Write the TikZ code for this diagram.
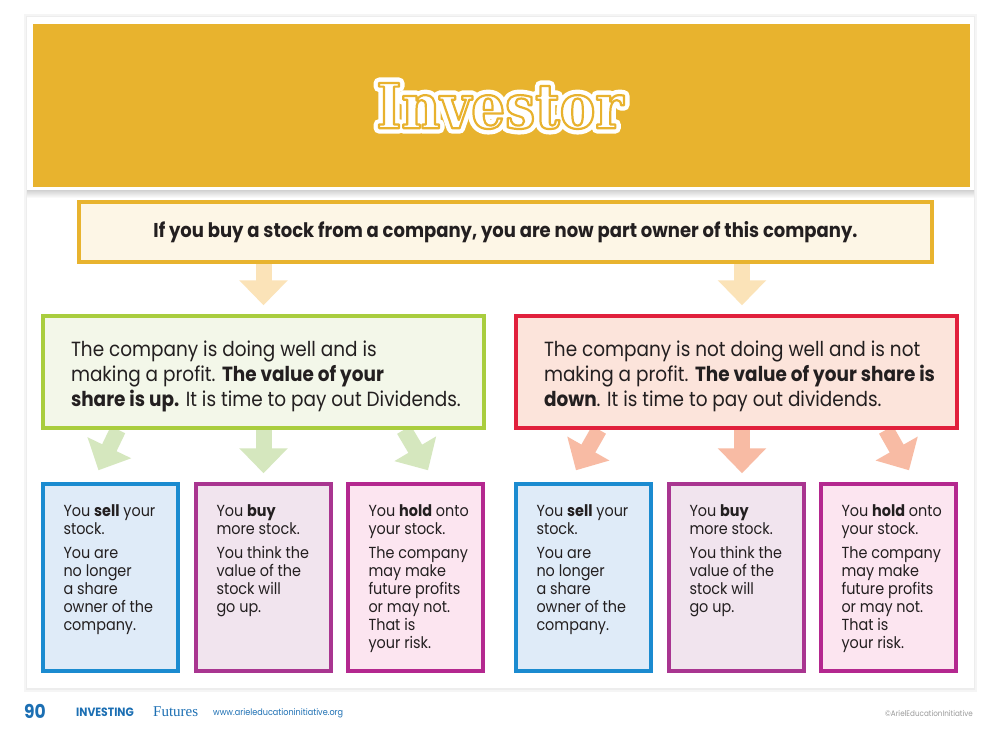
\documentclass[tikz,border=0pt]{standalone}
\usepackage{fontspec}
\setmainfont{Poppins}[FakeStretch=0.9]
\newfontfamily\titlefont{DejaVu Serif}[FakeStretch=0.86]
\newfontfamily\footserif{Liberation Serif}
\usetikzlibrary{arrows.meta,backgrounds}

\definecolor{ink}{HTML}{231F20}
\definecolor{gold}{HTML}{E8B32E}
\definecolor{cream}{HTML}{FDF6E6}
\definecolor{goldarrow}{HTML}{FBE3B8}
\definecolor{lime}{HTML}{A9CD3E}
\definecolor{limefill}{HTML}{F3F7E9}
\definecolor{limearrow}{HTML}{D5E7BE}
\definecolor{crimson}{HTML}{E1203C}
\definecolor{crimsonfill}{HTML}{FCE4DB}
\definecolor{crimsonarrow}{HTML}{F8BBA4}
\definecolor{sellblue}{HTML}{1B8BD0}
\definecolor{sellfill}{HTML}{DFEBF8}
\definecolor{buyplum}{HTML}{A93590}
\definecolor{buyfill}{HTML}{F1E4EE}
\definecolor{holdpink}{HTML}{B4288F}
\definecolor{holdfill}{HTML}{FCE5F0}
\definecolor{footblue}{HTML}{1C6FB3}

\newcommand{\boxtext}[1]{\hspace{15pt}\parbox{400pt}{\vspace{8pt}\raggedright #1}}
\newcommand{\cardtext}[1]{\hspace{16pt}\parbox[c][146pt][t]{110pt}{\raggedright #1}}
% outlined title text: stroke width and stroke colour (rgb)
\newcommand{\strokedtext}[3]{\special{pdf:literal direct 2 Tr #1 w 1 j #2 RG}#3\special{pdf:literal direct 0 Tr}}

\tikzset{
  inner rim/.style={append after command={
    \pgfextra{\draw[white,line width=0.8pt]
      ([shift={(2.3pt,2.3pt)}]\tikzlastnode.south west) rectangle
      ([shift={(-2.3pt,-2.3pt)}]\tikzlastnode.north east);}}},
  bigbox/.style 2 args={draw=#1, fill=#2, line width=3.5pt, inner rim,
    minimum width=441pt, minimum height=112pt, inner sep=0pt,
    font=\fontsize{20.5}{25}\selectfont},
  smallbox/.style 2 args={draw=#1, fill=#2, line width=3.5pt, inner rim,
    minimum width=135pt, minimum height=187pt, inner sep=0pt,
    font=\fontsize{16}{18}\selectfont},
  blockarrow/.style={draw=#1, line width=16pt,
    -{Triangle[width=47pt,length=25pt,fill=#1]}},
  titletext/.style={font=\titlefont\bfseries\fontsize{62}{62}\selectfont, inner sep=0pt, text=white}
}

\begin{document}
\begin{tikzpicture}[x=1pt,y=-1pt, every node/.append style={text=ink}]
\useasboundingbox (0,0) rectangle (1000,731);

% title: white halo, then white letters with a thin gold rim
\node[titletext] (halo) at (500,106) {\strokedtext{11}{1 1 1}{Investor}};
\node[titletext] (title) at (halo) {\strokedtext{2.2}{0.91 0.70 0.18}{Investor}};

% statement
\node[draw=gold, fill=cream, line width=3.5pt, inner rim, minimum width=853pt,
  minimum height=60pt, font=\bfseries\fontsize{20}{22}\selectfont] (stmt) at (505.5,232)
  {If you buy a stock from a company, you are now part owner of this company.};

% two outcomes
\node[bigbox={lime}{limefill}] (good) at (263.5,372)
  {\boxtext{The company is doing well and is\\
   making a profit. \textbf{The value of your}\\
   \textbf{share is up.} It is time to pay out Dividends.}};
\node[bigbox={crimson}{crimsonfill}] (bad) at (736.5,372)
  {\boxtext{The company is not doing well and is not\\
   making a profit. \textbf{The value of your share is}\\
   \textbf{down}. It is time to pay out dividends.}};

% choices
\node[smallbox={sellblue}{sellfill}] (sellA) at (110.5,577.5)
  {\cardtext{You \textbf{sell} your\\stock.\\[6pt]You are\\no longer\\a share\\owner of the\\company.}};
\node[smallbox={buyplum}{buyfill}] (buyA) at (263.5,577.5)
  {\cardtext{You \textbf{buy}\\more stock.\\[6pt]You think the\\value of the\\stock will\\go up.}};
\node[smallbox={holdpink}{holdfill}] (holdA) at (415.5,577.5)
  {\cardtext{You \textbf{hold} onto\\your stock.\\[6pt]The company\\may make\\future profits\\or may not.\\That is\\your risk.}};
\node[smallbox={sellblue}{sellfill}] (sellB) at (583.5,577.5)
  {\cardtext{You \textbf{sell} your\\stock.\\[6pt]You are\\no longer\\a share\\owner of the\\company.}};
\node[smallbox={buyplum}{buyfill}] (buyB) at (736.5,577.5)
  {\cardtext{You \textbf{buy}\\more stock.\\[6pt]You think the\\value of the\\stock will\\go up.}};
\node[smallbox={holdpink}{holdfill}] (holdB) at (888.5,577.5)
  {\cardtext{You \textbf{hold} onto\\your stock.\\[6pt]The company\\may make\\future profits\\or may not.\\That is\\your risk.}};

% card, header and arrows behind the boxes
\begin{scope}[on background layer]
\fill[black!4] (24,14) rectangle (977,692);
\fill[black!7] (26,16) rectangle (975,690);
\fill[white] (27,17) rectangle (974,688);
\shade[top color=black!18, bottom color=white] (27,190) rectangle (974,198);
\fill[gold] (33,24) rectangle (970,187);
\draw[blockarrow=goldarrow, shorten >=9pt] (stmt.south -| good.north) -- (good.north);
\draw[blockarrow=goldarrow, shorten >=9pt] ([xshift=5.5pt]stmt.south -| bad.north) -- ([xshift=5.5pt]bad.north);
\draw[blockarrow=limearrow] ([xshift=-145.5pt]good.south) -- ([xshift=-12pt,yshift=12pt]sellA.north);
\draw[blockarrow=limearrow, shorten >=9pt] (good.south) -- (buyA.north);
\draw[blockarrow=limearrow] ([xshift=140.5pt]good.south) -- ([xshift=12.5pt,yshift=12pt]holdA.north);
\draw[blockarrow=crimsonarrow] ([xshift=-137.5pt]bad.south) -- ([xshift=-7.5pt,yshift=12pt]sellB.north);
\draw[blockarrow=crimsonarrow, shorten >=9pt] ([xshift=5.5pt]bad.south) -- ([xshift=5.5pt]buyB.north);
\draw[blockarrow=crimsonarrow] ([xshift=149.5pt]bad.south) -- ([xshift=20.5pt,yshift=12pt]holdB.north);
\end{scope}

% footer
\node[text=footblue, font=\bfseries\fontsize{19}{19}\selectfont, inner sep=0pt] (page) at (35,711) {90};
\node[text=footblue, font=\bfseries\fontsize{12}{12}\selectfont, anchor=west, inner sep=0pt] (series) at (76,712) {INVESTING};
\node[text=footblue, font=\footserif\fontsize{15}{15}\selectfont, anchor=west, inner sep=0pt] (brand) at (153,712) {Futures};
\node[text=footblue, font=\fontsize{9}{9}\selectfont, anchor=west, inner sep=0pt] (web) at (213,713) {www.arieleducationinitiative.org};
\node[text=black!40, font=\fontsize{8}{8}\selectfont, anchor=east, inner sep=0pt] (copy) at (973,713) {\textcopyright ArielEducationInitiative};
\end{tikzpicture}
\end{document}
